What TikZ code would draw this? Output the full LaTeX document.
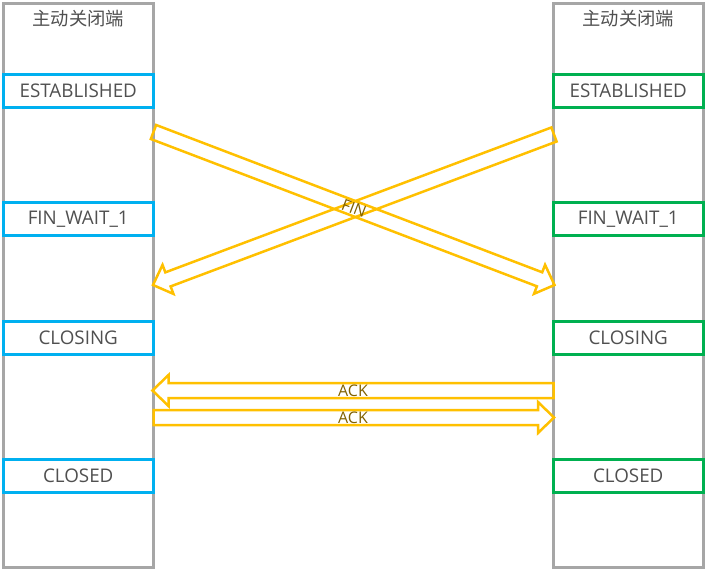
\documentclass[tikz,border=0pt]{standalone}
\usepackage{fontspec}
\setmainfont{Open Sans}
\newfontfamily\cjk{Noto Sans CJK SC}
\usepackage{tikz}
\usetikzlibrary{calc}
\usetikzlibrary{positioning}

\definecolor{colGray}{RGB}{166,166,166}
\definecolor{txtGray}{RGB}{80,80,80}
\definecolor{stBlue}{RGB}{0,176,240}
\definecolor{stGreen}{RGB}{0,176,80}
\definecolor{arrYellow}{RGB}{255,192,0}
\definecolor{arrText}{RGB}{127,96,0}

\newcommand{\blockarrow}[2]{%
  \coordinate (neck) at ($(#2)!16pt!(#1)$);
  \draw[blockline] ($(#1)!7.5pt!90:(#2)$) -- ($(neck)!7.5pt!90:(#2)$)
    -- ($(neck)!15.5pt!90:(#2)$) -- (#2) -- ($(neck)!15.5pt!-90:(#2)$)
    -- ($(neck)!7.5pt!-90:(#2)$) -- ($(#1)!7.5pt!-90:(#2)$) -- cycle;}

\begin{document}
\begin{tikzpicture}[x=1pt,y=-1pt,
  column/.style={draw=colGray,line width=3pt,minimum width=150pt,minimum height=564pt,inner sep=0pt},
  title/.style={text=txtGray,font=\cjk\fontsize{18.3}{20}\selectfont},
  stateL/.style={draw=stBlue,line width=3pt,fill=white,minimum width=150.5pt,minimum height=33pt,inner sep=0pt,text=txtGray,font=\fontsize{18.8}{20}\selectfont},
  stateR/.style={stateL,draw=stGreen},
  blockline/.style={draw=arrYellow,line width=2.5pt,line join=miter},
  msg/.style={text=arrText,font=\fontsize{16}{18}\selectfont,inner sep=0pt}]
  \useasboundingbox (0,0) rectangle (707,571);
  \node[column] (colL) at (78.25,285) {};
  \node[column] (colR) at (628.25,285) {};
  \node[title] (titleL) at (78.25,18.5) {主动关闭端};
  \node[title] (titleR) at (628.25,18.5) {主动关闭端};

  \node[stateL] (estL) at (78.25,91) {ESTABLISHED};
  \node[stateL] (finL) at (78.25,219) {FIN\_WAIT\_1};
  \node[stateL] (closingL) at (78.25,338) {CLOSING};
  \node[stateL] (closedL) at (78.25,475.5) {CLOSED};
  \node[stateR] (estR) at (628.25,91) {ESTABLISHED};
  \node[stateR] (finR) at (628.25,219) {FIN\_WAIT\_1};
  \node[stateR] (closingR) at (628.25,338) {CLOSING};
  \node[stateR] (closedR) at (628.25,475.5) {CLOSED};

  \coordinate (finTailL) at (153.5,132);
  \coordinate (finTipR) at (554.5,285);
  \coordinate (finTailR) at (554,134.5);
  \coordinate (finTipL) at (153,285);
  \coordinate (ackTailR) at (553.5,390.5);
  \coordinate (ackTipL) at (152.5,390.5);
  \coordinate (ackTailL) at (153.5,417.5);
  \coordinate (ackTipR) at (554,417.5);

  \blockarrow{finTailL}{finTipR}
  \blockarrow{finTailR}{finTipL}
  \blockarrow{ackTailR}{ackTipL}
  \blockarrow{ackTailL}{ackTipR}

  \path (finTailL) -- node[msg,sloped] (finMsg) {FIN} (finTipR);
  \node[msg] (ackMsgA) at (353,390.5) {ACK};
  \node[msg] (ackMsgB) at (353,417.5) {ACK};
\end{tikzpicture}
\end{document}
